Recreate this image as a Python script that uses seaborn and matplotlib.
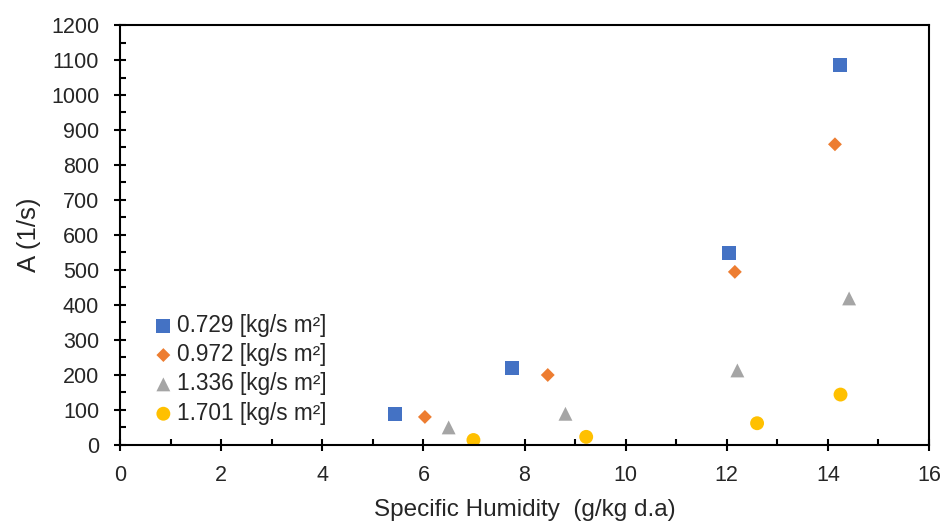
import matplotlib
matplotlib.use("Agg")
import matplotlib.pyplot as plt
from matplotlib.ticker import MultipleLocator
import seaborn as sns
import pandas as pd

# Specific humidity (g/kg dry air) and coefficient A (1/s) per mass flux
series_labels = ["0.729 [kg/s m²]", "0.972 [kg/s m²]", "1.336 [kg/s m²]", "1.701 [kg/s m²]"]
hum_0729 = [5.43, 7.75, 12.04, 14.24]
a_0729 = [87, 220, 547, 1087]
hum_0972 = [6.03, 8.46, 12.16, 14.14]
a_0972 = [79, 199, 494, 859]
hum_1336 = [6.50, 8.81, 12.21, 14.42]
a_1336 = [49, 88, 212, 418]
hum_1701 = [6.99, 9.22, 12.60, 14.25]
a_1701 = [13, 22, 61, 143]

colors = ["#4472C4", "#ED7D31", "#A5A5A5", "#FFC000"]
markers = ["s", "D", "^", "o"]
sizes = [100, 50, 100, 100]

sns.set_theme(style="white")
plt.rcParams["font.family"] = ["Liberation Sans", "DejaVu Sans"]
text_color = "#262626"

frames = []
for lab, xs, ys in zip(series_labels,
                       [hum_0729, hum_0972, hum_1336, hum_1701],
                       [a_0729, a_0972, a_1336, a_1701]):
    frames.append(pd.DataFrame({"hum": xs, "A": ys, "flux": lab}))
df = pd.concat(frames, ignore_index=True)

fig = plt.figure(figsize=(9.42, 5.23), dpi=100)
ax = fig.add_axes([0.1274, 0.150, 0.8588, 0.802])

for lab, col, mk, sz in zip(series_labels, colors, markers, sizes):
    sub = df[df["flux"] == lab]
    sns.scatterplot(data=sub, x="hum", y="A", ax=ax, marker=mk, s=sz,
                    color=col, edgecolor="none", linewidth=0, label=lab)

ax.set_xlim(0, 16)
ax.set_ylim(0, 1200)
ax.xaxis.set_major_locator(MultipleLocator(2))
ax.xaxis.set_minor_locator(MultipleLocator(1))
ax.yaxis.set_major_locator(MultipleLocator(100))
ax.yaxis.set_minor_locator(MultipleLocator(50))

for side in ["left", "bottom", "top", "right"]:
    ax.spines[side].set_visible(True)
    ax.spines[side].set_color("black")
    ax.spines[side].set_linewidth(1.5)

ax.tick_params(axis="both", which="major", direction="inout", length=8, width=1.5,
               color="black", labelsize=15.5, labelcolor=text_color,
               left=True, bottom=True, top=False, right=False)
ax.tick_params(axis="x", which="major", pad=11)
ax.tick_params(axis="y", which="major", pad=11)
ax.tick_params(axis="both", which="minor", direction="in", length=4, width=1.5,
               color="black", left=True, bottom=True, top=False, right=False)

ax.set_xlabel("Specific Humidity  (g/kg d.a)", fontsize=17.5, color=text_color, labelpad=9)
ax.set_ylabel("A (1/s)", fontsize=18.5, color=text_color, labelpad=7)

leg = ax.legend(loc="lower left", bbox_to_anchor=(0.02, 0.015), frameon=False,
                fontsize=16.3, handletextpad=0.0, labelspacing=0.28,
                borderaxespad=0.2, handlelength=1.2)
for t in leg.get_texts():
    t.set_color(text_color)

fig.savefig("out.png", dpi=100)
